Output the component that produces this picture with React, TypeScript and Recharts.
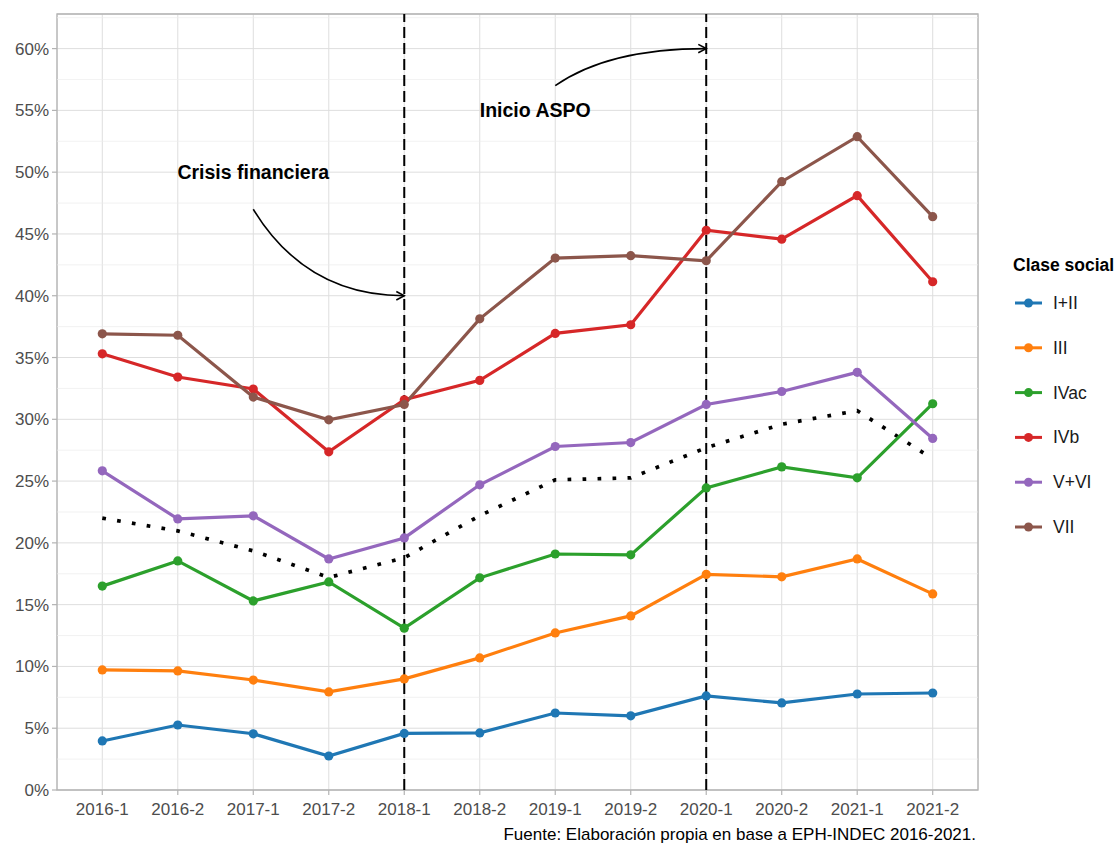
import React from "react";
import {
  LineChart,
  Line,
  XAxis,
  YAxis,
  CartesianGrid,
  ReferenceLine,
  ReferenceDot,
  ReferenceArea,
  Customized,
} from "recharts";

const FONT = "'Liberation Sans', Arial, Helvetica, sans-serif";

const categories = [
  "2016-1", "2016-2", "2017-1", "2017-2", "2018-1", "2018-2",
  "2019-1", "2019-2", "2020-1", "2020-2", "2021-1", "2021-2",
];

const claseI_II = [3.97, 5.26, 4.55, 2.75, 4.58, 4.62, 6.23, 6.0, 7.61, 7.05, 7.77, 7.85];
const claseIII = [9.72, 9.64, 8.9, 7.94, 8.99, 10.69, 12.71, 14.09, 17.45, 17.25, 18.7, 15.87];
const claseIVac = [16.5, 18.54, 15.3, 16.84, 13.1, 17.17, 19.1, 19.03, 24.45, 26.15, 25.26, 31.26];
const claseIVb = [35.3, 33.42, 32.45, 27.37, 31.58, 33.15, 36.95, 37.65, 45.3, 44.58, 48.1, 41.13];
const claseV_VI = [25.83, 21.94, 22.19, 18.7, 20.4, 24.7, 27.8, 28.12, 31.2, 32.25, 33.8, 28.45];
const claseVII = [36.92, 36.8, 31.8, 29.96, 31.2, 38.13, 43.05, 43.24, 42.83, 49.23, 52.87, 46.4];
const promedio = [22.0, 20.97, 19.35, 17.2, 18.8, 22.2, 25.1, 25.26, 27.7, 29.6, 30.7, 26.8];

const yTicks = [0, 5, 10, 15, 20, 25, 30, 35, 40, 45, 50, 55, 60];
const yMinorTicks = [2.5, 7.5, 12.5, 17.5, 22.5, 27.5, 32.5, 37.5, 42.5, 47.5, 52.5, 57.5, 62.5];

const seriesNames = ["I+II", "III", "IVac", "IVb", "V+VI", "VII"];
const seriesKeys = ["s1", "s2", "s3", "s4", "s5", "s6"];
const seriesColors = ["#1f77b4", "#ff7f0e", "#2ca02c", "#d62728", "#9467bd", "#8c564b"];
const seriesValues = [claseI_II, claseIII, claseIVac, claseIVb, claseV_VI, claseVII];

const data = categories.map((c, i) => {
  const row: Record<string, number | string> = { idx: i, label: c, avg: promedio[i] };
  seriesKeys.forEach((k, j) => {
    row[k] = seriesValues[j][i];
  });
  return row;
});

const xTicks = categories.map((_, i) => i);

const CurvedArrow = (props: any) => {
  const { x1, y1, x2, y2 } = props;
  if ([x1, y1, x2, y2].some((v) => typeof v !== "number" || isNaN(v))) return <g />;
  const cx = x1 + 0.35 * (x2 - x1);
  const cy = y2;
  const dirX = x2 - cx;
  const dirY = y2 - cy;
  const len = Math.sqrt(dirX * dirX + dirY * dirY) || 1;
  const ux = dirX / len;
  const uy = dirY / len;
  const ah = 9;
  const ang = (28 * Math.PI) / 180;
  const rot = (a: number) => ({
    x: ux * Math.cos(a) - uy * Math.sin(a),
    y: ux * Math.sin(a) + uy * Math.cos(a),
  });
  const r1 = rot(ang);
  const r2 = rot(-ang);
  return (
    <g>
      <path d={`M${x1},${y1} Q${cx},${cy} ${x2},${y2}`} fill="none" stroke="#000" strokeWidth={1.6} />
      <path
        d={`M${x2 - ah * r1.x},${y2 - ah * r1.y} L${x2},${y2} L${x2 - ah * r2.x},${y2 - ah * r2.y}`}
        fill="none"
        stroke="#000"
        strokeWidth={1.6}
      />
    </g>
  );
};

const annotationText = (text: string) => (props: any) => (
  <text
    x={props.cx}
    y={props.cy}
    dy="0.36em"
    textAnchor="middle"
    fontFamily={FONT}
    fontSize={19.5}
    fontWeight="bold"
    fill="#000"
  >
    {text}
  </text>
);

const LegendAndCaption = () => (
  <g fontFamily={FONT}>
    <text x={1013} y={271} fontSize={17.5} fontWeight="bold" fill="#000">
      Clase social
    </text>
    {seriesNames.map((name, i) => {
      const cy = 303 + i * 44.8;
      return (
        <g key={name}>
          <line x1={1015} x2={1042} y1={cy} y2={cy} stroke={seriesColors[i]} strokeWidth={3} />
          <circle cx={1028.5} cy={cy} r={4.5} fill={seriesColors[i]} />
          <text x={1053} y={cy + 6} fontSize={17.5} fill="#1a1a1a">
            {name}
          </text>
        </g>
      );
    })}
    <text x={976} y={840} textAnchor="end" fontSize={17} fill="#000">
      Fuente: Elaboración propia en base a EPH-INDEC 2016-2021.
    </text>
  </g>
);

export default function App() {
  return (
    <div
      style={{
        position: "fixed",
        left: 0,
        top: 0,
        width: 1115,
        height: 843,
        overflow: "hidden",
        background: "#fff",
        fontFamily: FONT,
      }}
    >
      <LineChart
        width={1115}
        height={843}
        data={data}
        margin={{ top: 14, right: 137, bottom: 23, left: 0 }}
      >
        <CartesianGrid stroke="#dedede" strokeWidth={1} />
        {yMinorTicks.map((t) => (
          <ReferenceLine key={`m${t}`} y={t} stroke="#ececec" strokeWidth={0.7} />
        ))}
        <XAxis
          dataKey="idx"
          type="number"
          domain={[-0.6, 11.6]}
          ticks={xTicks}
          allowDataOverflow
          tickFormatter={(v: number) => categories[v] ?? ""}
          height={30}
          tickSize={5}
          tickMargin={8}
          axisLine={false}
          tickLine={{ stroke: "#b3b3b3", strokeWidth: 1.2 }}
          tick={{ fill: "#4d4d4d", fontSize: 17, fontFamily: FONT }}
          interval={0}
        />
        <YAxis
          type="number"
          domain={[0, 62.8]}
          ticks={yTicks}
          allowDataOverflow
          tickFormatter={(v: number) => `${v}%`}
          width={57}
          tickSize={5}
          tickMargin={3}
          axisLine={false}
          tickLine={{ stroke: "#b3b3b3", strokeWidth: 1.2 }}
          tick={{ fill: "#4d4d4d", fontSize: 17, fontFamily: FONT }}
          interval={0}
        />
        <ReferenceArea x1={-0.6} x2={11.6} y1={0} y2={62.8} fill="none" stroke="#b3b3b3" strokeWidth={1.3} />
        <Line
          dataKey="avg"
          stroke="#000"
          strokeWidth={3.7}
          strokeDasharray="3.7 11.3"
          dot={false}
          activeDot={false}
          isAnimationActive={false}
        />
        {seriesKeys.map((k, i) => (
          <Line
            key={k}
            dataKey={k}
            name={seriesNames[i]}
            stroke={seriesColors[i]}
            strokeWidth={3.2}
            dot={{ r: 4.6, fill: seriesColors[i], stroke: seriesColors[i], strokeWidth: 0 }}
            activeDot={false}
            isAnimationActive={false}
          />
        ))}
        <ReferenceLine x={4} stroke="#000" strokeWidth={2} strokeDasharray="11 5" />
        <ReferenceLine x={8} stroke="#000" strokeWidth={2} strokeDasharray="11 5" />
        <ReferenceDot x={2} y={50} r={0} shape={annotationText("Crisis financiera")} />
        <ReferenceDot x={5.735} y={55} r={0} shape={annotationText("Inicio ASPO")} />
        <ReferenceLine
          segment={[
            { x: 2, y: 47 },
            { x: 4, y: 40 },
          ]}
          shape={CurvedArrow}
        />
        <ReferenceLine
          segment={[
            { x: 6, y: 57 },
            { x: 8, y: 60 },
          ]}
          shape={CurvedArrow}
        />
        <Customized component={<LegendAndCaption />} />
      </LineChart>
    </div>
  );
}
